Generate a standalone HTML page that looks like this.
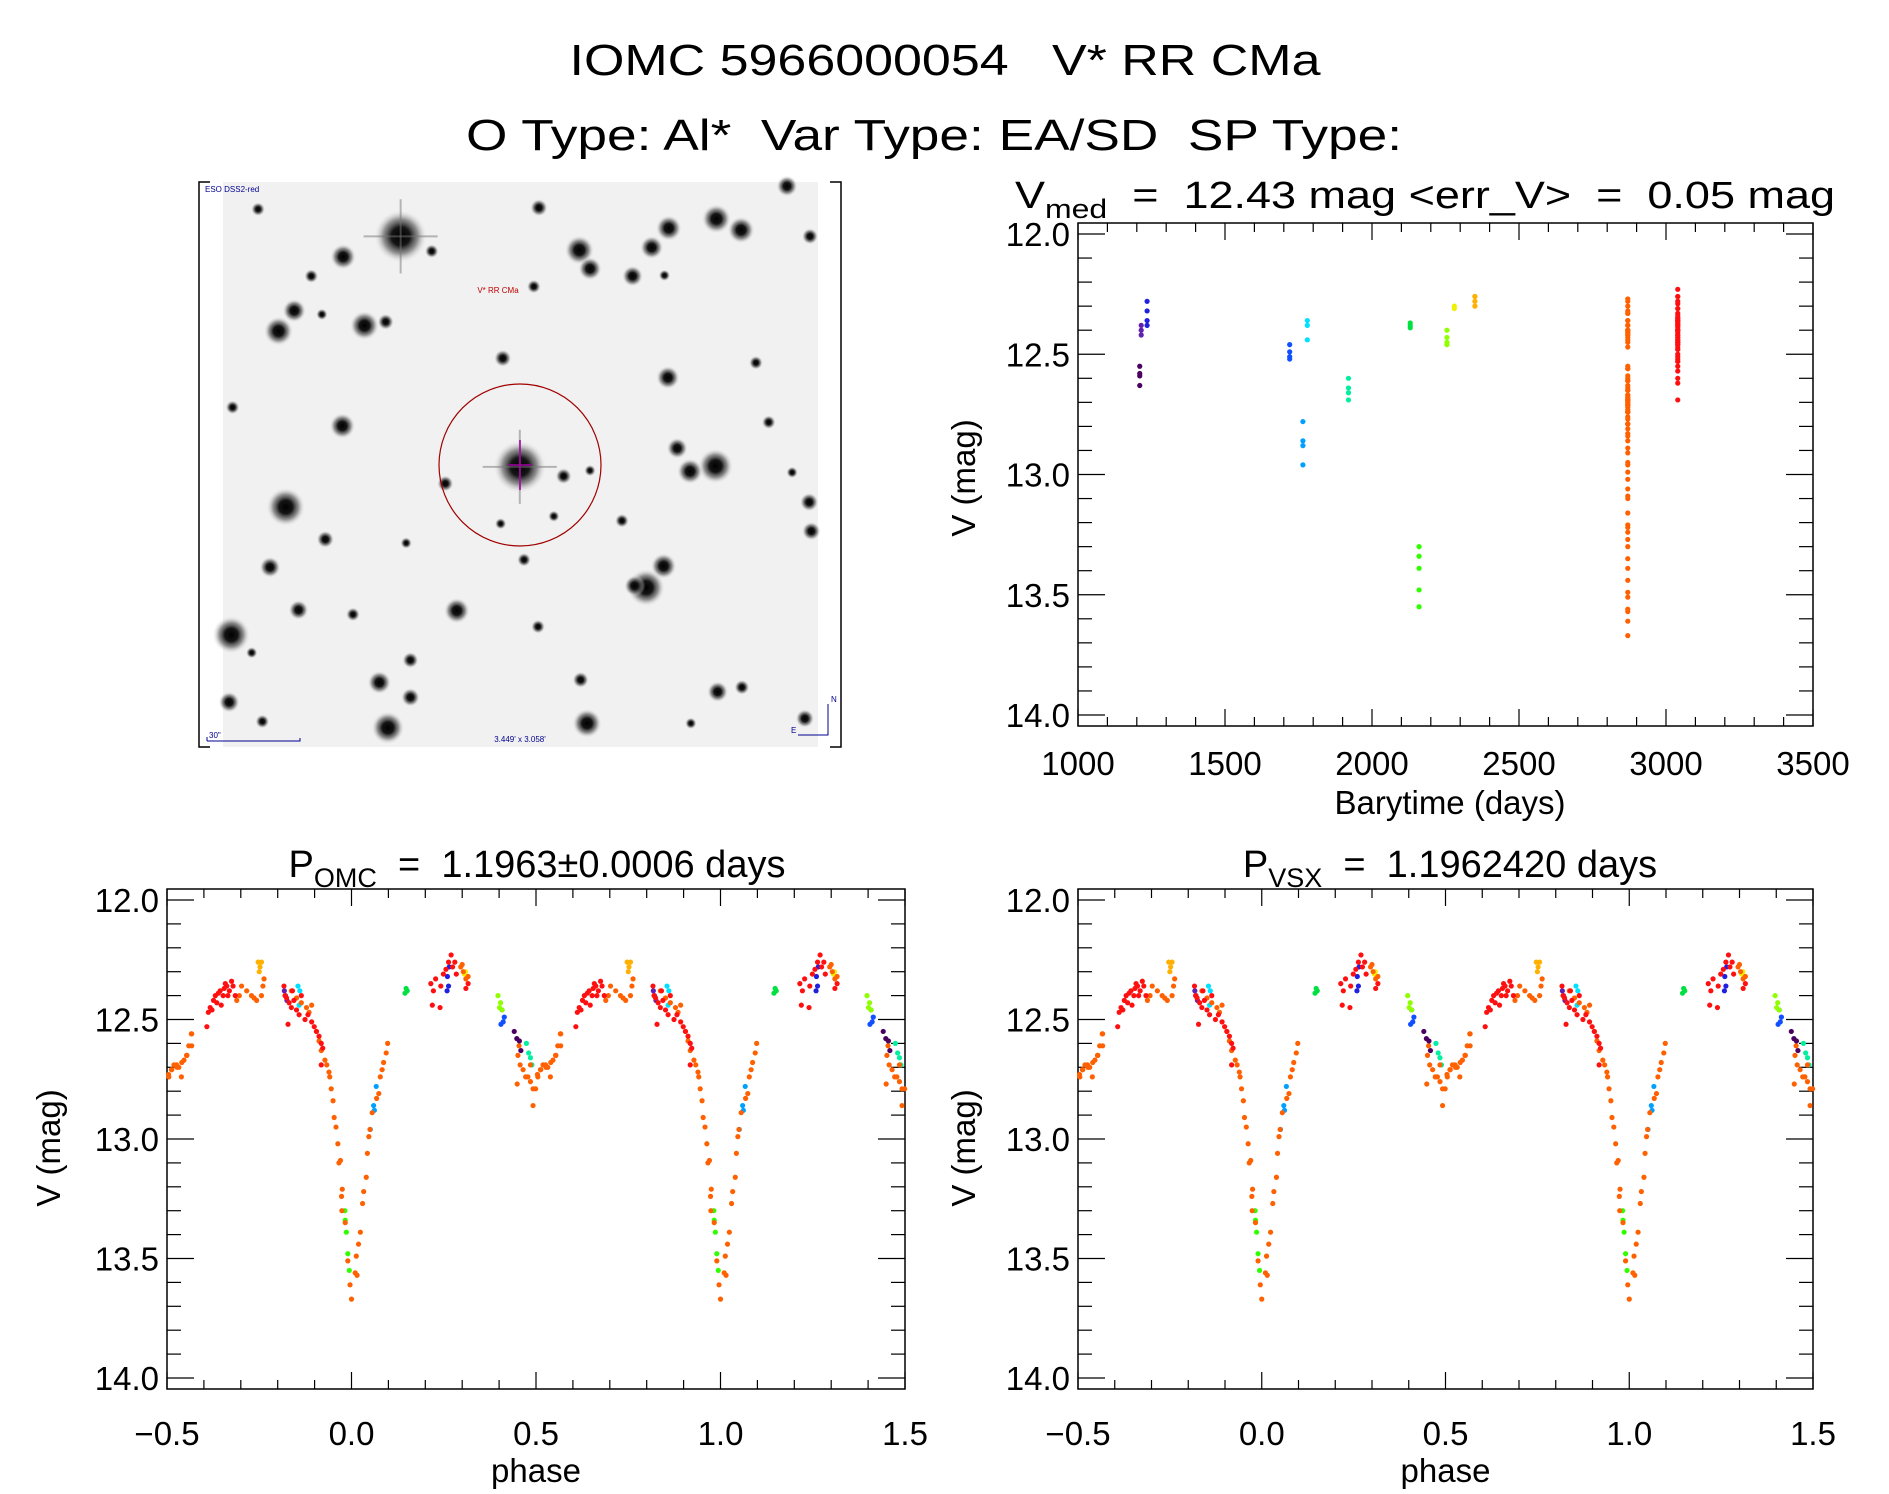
<!DOCTYPE html>
<html><head><meta charset="utf-8"><style>
html,body{margin:0;padding:0;background:#fff;}
svg{display:block;font-family:"Liberation Sans",sans-serif;}
svg text{white-space:pre;}
</style></head><body>
<svg id="fig" width="1889" height="1494" viewBox="0 0 1889 1494" xmlns="http://www.w3.org/2000/svg">
<defs>
<radialGradient id="starg"><stop offset="0" stop-color="#000"/><stop offset="0.35" stop-color="#151515"/><stop offset="0.65" stop-color="#666" stop-opacity="0.7"/><stop offset="1" stop-color="#eee" stop-opacity="0"/></radialGradient>
</defs>
<text x="945" y="75" font-size="44" text-anchor="middle" textLength="751" lengthAdjust="spacingAndGlyphs">IOMC 5966000054   V* RR CMa</text>
<text x="934" y="150" font-size="44" text-anchor="middle" textLength="936" lengthAdjust="spacingAndGlyphs">O Type: Al*  Var Type: EA/SD  SP Type:</text>
<g id="img"></g>
<g id="p1"></g>
<g id="p2"></g>
<g id="p3"></g>
</svg>
<script>
// ---- data ----
const groupTimes = [1210,1215,1235,1720,1765,1780,1920,2130,2160,2255,2280,2350,2870,3040];
const groupColors = ["#4a0060","#6020b0","#2020e0","#1050ff","#00a0ff","#00e0ff","#00f0a0","#00e040","#30ff00","#90ff00","#f0f000","#ffb000","#ff6000","#ff1010"];
const groupPhases = [
 [0.441,0.448,0.455,0.459],
 [0.821,0.818,0.825],
 [0.26,0.263,0.259,0.265],
 [0.414,0.411,0.405,0.408],
 [0.067,0.06,0.051,0.062],
 [0.855,0.86,0.858],
 [0.474,0.48,0.485,0.489],
 [0.148,0.151,0.145],
 [0.982,0.983,0.986,0.99,0.994],
 [0.397,0.404,0.408,0.401],
 [0.306,0.309],
 [0.747,0.752,0.756,0.75],
 [0.0,-0.004,0.015,0.01,-0.01,0.013,0.024,0.019,-0.017,-0.026,0.03,0.033,-0.027,-0.025,0.04,-0.034,-0.03,0.043,-0.037,0.047,-0.042,0.05,-0.047,0.056,-0.05,0.068,0.074,-0.055,0.078,-0.059,0.083,-0.061,0.087,-0.067,0.094,-0.072,0.098,-0.082,-0.088,-0.095,
  0.451,0.457,0.465,0.478,0.485,0.492,0.499,0.492,0.505,0.512,0.519,0.526,0.532,0.539,0.546,0.553,0.559,0.566,0.454,0.449,0.472,0.485,
  0.504,0.513,0.527,0.54,0.554,0.567,0.567,0.702,0.716,0.729,0.736,0.743,0.756,0.76,0.763,0.689,0.696,
  0.837,0.851,0.864,0.878,0.885,0.892,0.296,0.303,0.31,0.316,0.3],
 [0.608,0.612,0.617,0.626,0.631,0.639,0.644,0.652,0.655,0.662,0.669,0.675,0.679,0.685,0.665,0.647,0.635,0.622,0.658,
  0.817,0.824,0.831,0.828,0.837,0.844,0.851,0.858,0.864,0.874,0.882,0.892,0.899,0.905,0.912,0.918,0.922,0.918,0.82,0.84,
  0.215,0.222,0.219,0.24,0.228,0.242,0.249,0.256,0.263,0.27,0.274,0.28,0.31,0.316,0.284]
];
const groupMags = [
 [12.55,12.58,12.59,12.63],
 [12.40,12.38,12.42],
 [12.32,12.36,12.38,12.28],
 [12.49,12.51,12.52,12.46],
 [12.78,12.86,12.96,12.88],
 [12.36,12.38,12.44],
 [12.60,12.64,12.66,12.69],
 [12.37,12.38,12.39],
 [13.30,13.34,13.39,13.48,13.55],
 [12.40,12.43,12.46,12.45],
 [12.31,12.30],
 [12.26,12.28,12.26,12.30],
 [13.67,13.61,13.57,13.56,13.51,13.49,13.39,13.44,13.35,13.30,13.27,13.22,13.24,13.21,13.16,13.10,13.09,13.06,13.02,12.99,12.95,12.96,12.91,12.89,12.84,12.83,12.81,12.79,12.74,12.74,12.71,12.72,12.68,12.69,12.64,12.67,12.60,12.63,12.59,12.55,
  12.65,12.69,12.71,12.74,12.76,12.79,12.79,12.86,12.74,12.71,12.69,12.69,12.70,12.74,12.67,12.65,12.61,12.56,12.61,12.77,12.74,12.69,
  12.73,12.71,12.70,12.68,12.65,12.61,12.56,12.36,12.38,12.40,12.41,12.42,12.40,12.36,12.33,12.42,12.40,
  12.38,12.41,12.43,12.45,12.47,12.44,12.28,12.30,12.33,12.32,12.27],
 [12.53,12.47,12.45,12.42,12.40,12.39,12.38,12.40,12.37,12.36,12.38,12.34,12.36,12.40,12.40,12.44,12.43,12.46,12.35,
  12.36,12.41,12.43,12.52,12.45,12.42,12.46,12.48,12.40,12.50,12.48,12.51,12.53,12.55,12.57,12.60,12.62,12.69,12.40,12.38,
  12.35,12.38,12.44,12.45,12.33,12.36,12.31,12.29,12.26,12.23,12.28,12.26,12.37,12.35,12.31]
];
const magTicks = [12.0,12.5,13.0,13.5,14.0];
const timeTicks = [1000,1500,2000,2500,3000,3500];
const phaseTicks = [-0.5,0.0,0.5,1.0,1.5];
const stars = [[495,165,45],[360,220,22],[160,92,12],[285,272,12],[568,205,12],[820,88,15],[915,202,25],[940,252,20],[1085,195,20],[1125,143,22],[1040,272,18],[1237,118,25],[1295,148,23],[1403,30,18],[1457,165,14],[245,365,20],[208,420,25],[410,405,25],[460,395,14],[310,375,10],[808,300,12],[735,493,15],[1123,545,20],[1330,505,12],[100,625,12],[358,675,22],[775,785,45],[1145,735,18],[1235,783,30],[1175,797,22],[1360,665,12],[600,830,14],[878,810,14],[940,795,10],[225,893,33],[1455,880,16],[1460,958,16],[1015,930,12],[855,918,10],[730,938,10],[318,980,15],[1113,1052,22],[1072,1110,32],[1045,1105,18],[785,1035,12],[188,1055,18],[508,990,10],[255,1170,17],[383,1182,12],[627,1172,22],[97,1237,32],[818,1215,12],[518,1305,14],[145,1285,10],[445,1365,20],[518,1405,16],[92,1418,18],[918,1358,14],[1240,1390,18],[1297,1378,13],[465,1487,28],[933,1475,25],[1445,1462,16],[170,1470,12],[1177,1475,10],[1415,800,10],[1115,270,10]];

const NS="http://www.w3.org/2000/svg";
function mk(parent,tag,attrs,txt){const e=document.createElementNS(NS,tag);for(const k in attrs)e.setAttribute(k,attrs[k]);if(txt!==undefined)e.textContent=txt;parent.appendChild(e);return e;}

// ---- finder image ----
const img=document.getElementById('img');
let e=mk(img,'rect',{x:223,y:182,width:595,height:565,fill:'#f1f1f1'});


stars.forEach(s=>{
  const cx=s[0]/2.35+190, cy=s[1]/2.69+175, r=s[2]/1.7;
  const c=mk(img,'circle',{cx:cx,cy:cy,r:r,fill:'url(#starg)'});
  
  
  if(s[2]>=45){
    mk(img,'line',{x1:cx-r*1.4,y1:cy,x2:cx+r*1.4,y2:cy,stroke:'#777','stroke-width':2,opacity:0.5});
    mk(img,'line',{x1:cx,y1:cy-r*1.4,x2:cx,y2:cy+r*1.4,stroke:'#777','stroke-width':2,opacity:0.5});
  }
});
mk(img,'path',{d:'M210,182 H199 V747 H210 M830,182 H841 V747 H830',fill:'none',stroke:'#000','stroke-width':1.5});
e=mk(img,'circle',{cx:520,cy:465,r:81,fill:'none',stroke:'#a00000','stroke-width':1.2});


mk(img,'line',{x1:508,y1:465,x2:532,y2:465,stroke:'#a000a0','stroke-width':1.5});
mk(img,'line',{x1:520,y1:440,x2:520,y2:490,stroke:'#a000a0','stroke-width':1.5});
e=mk(img,'text',{x:498,y:293,'font-size':8,fill:'#c00000','text-anchor':'middle'},'V* RR CMa');


e=mk(img,'text',{x:205,y:192,'font-size':8,fill:'#000090'},'ESO DSS2-red');


mk(img,'path',{d:'M207,741 H300 V738 M207,741 V737',fill:'none',stroke:'#000090','stroke-width':1});
mk(img,'text',{x:209,y:738,'font-size':8,fill:'#000090'},'30"');
mk(img,'text',{x:520,y:742,'font-size':8,fill:'#000090','text-anchor':'middle'},"3.449' x 3.058'");
mk(img,'path',{d:'M798,735 H828 V704',fill:'none',stroke:'#000090','stroke-width':1});
mk(img,'text',{x:831,y:702,'font-size':8,fill:'#000090'},'N');
mk(img,'text',{x:791,y:733,'font-size':8,fill:'#000090'},'E');

// ---- chart helper ----
function axes(g,L,R,y12,y14,xmin,xmax,xMinor,xticks,xfmt,xtickY){
  const top=y12-11,bot=y14+11;
  const sx=v=>L+(v-xmin)/(xmax-xmin)*(R-L);
  const sy=m=>y12+(m-12)/2*(y14-y12);
  let r=mk(g,'rect',{x:L,y:top,width:R-L,height:bot-top,fill:'none',stroke:'#000','stroke-width':1.5});
  
  
  for(let v=xmin;v<=xmax+1e-9;v+=xMinor){
    const x=sx(v); const maj=xticks.some(t=>Math.abs(t-v)<1e-6); const len=maj?17:9;
    mk(g,'line',{x1:x,y1:bot,x2:x,y2:bot-len,stroke:'#000','stroke-width':1.2});
    mk(g,'line',{x1:x,y1:top,x2:x,y2:top+len,stroke:'#000','stroke-width':1.2});
  }
  for(let m=12.0;m<=14.0001;m+=0.1){
    const y=sy(m); const maj=Math.abs(m*2-Math.round(m*2))<1e-6; const len=maj?27:14;
    mk(g,'line',{x1:L,y1:y,x2:L+len,y2:y,stroke:'#000','stroke-width':1.2});
    mk(g,'line',{x1:R,y1:y,x2:R-len,y2:y,stroke:'#000','stroke-width':1.2});
  }
  magTicks.forEach(m=>{
    const t=mk(g,'text',{x:L-8,y:sy(m)+12,'font-size':33,'text-anchor':'end'},m.toFixed(1));
    
    
  });
  xticks.forEach(v=>{
    const t=mk(g,'text',{x:sx(v),y:xtickY,'font-size':33,'text-anchor':'middle'},xfmt(v));
    
    
  });
  return {sx,sy};
}
function ylabel(g,x,y){
  const t=mk(g,'text',{x:0,y:0,'font-size':33,'text-anchor':'middle',transform:`translate(${x},${y}) rotate(-90)`},'V (mag)');
  
  
}

// ---- panel 1: time series ----
const g1=document.getElementById('p1');
const a1=axes(g1,1078,1813,234,715,1000,3500,100,timeTicks,v=>String(v),775);
groupTimes.forEach((t,gi)=>{
  groupMags[gi].forEach(m=>{
    const c=mk(g1,'circle',{cx:a1.sx(t),cy:a1.sy(m),r:2.6,fill:groupColors[gi]});
    
    
  });
});
let t1=mk(g1,'text',{x:1015,y:208,'font-size':38,textLength:820,lengthAdjust:'spacingAndGlyphs'},'');


t1.innerHTML='V<tspan dy="10" font-size="27">med</tspan><tspan dy="-10">  =  12.43 mag &lt;err_V&gt;  =  0.05 mag</tspan>';
t1=mk(g1,'text',{x:1450,y:814,'font-size':33,'text-anchor':'middle'},'Barytime (days)');


ylabel(g1,975,478);

// ---- phase panels ----
function phasePanel(g,L,R,title,sub,rest,titleX){
  const a=axes(g,L,R,900,1378,-0.5,1.5,0.1,phaseTicks,v=>(v<0?'\u22120.5':v.toFixed(1)),1445);
  groupPhases.forEach((ph,gi)=>{
    ph.forEach((p,i)=>{
      const m=groupMags[gi][i];
      let base=((p%1)+1)%1;
      for(let k=-1;k<=2;k++){
        const v=base+k;
        if(v<-0.5||v>1.5) continue;
        const c=mk(g,'circle',{cx:a.sx(v),cy:a.sy(m),r:2.6,fill:groupColors[gi]});
        
        
      }
    });
  });
  const t=mk(g,'text',{x:titleX,y:877,'font-size':38,'text-anchor':'middle'},'');
  
  
  t.innerHTML=title+'<tspan dy="10" font-size="27">'+sub+'</tspan><tspan dy="-10">'+rest+'</tspan>';
  const p=mk(g,'text',{x:(L+R)/2,y:1482,'font-size':33,'text-anchor':'middle'},'phase');
  
  
}
phasePanel(document.getElementById('p2'),167,905,'P','OMC','  =  1.1963\u00b10.0006 days',537);
ylabel(document.getElementById('p2'),60,1148);
phasePanel(document.getElementById('p3'),1078,1813,'P','VSX','  =  1.1962420 days',1450);
ylabel(document.getElementById('p3'),975,1148);
</script>
</body></html>
